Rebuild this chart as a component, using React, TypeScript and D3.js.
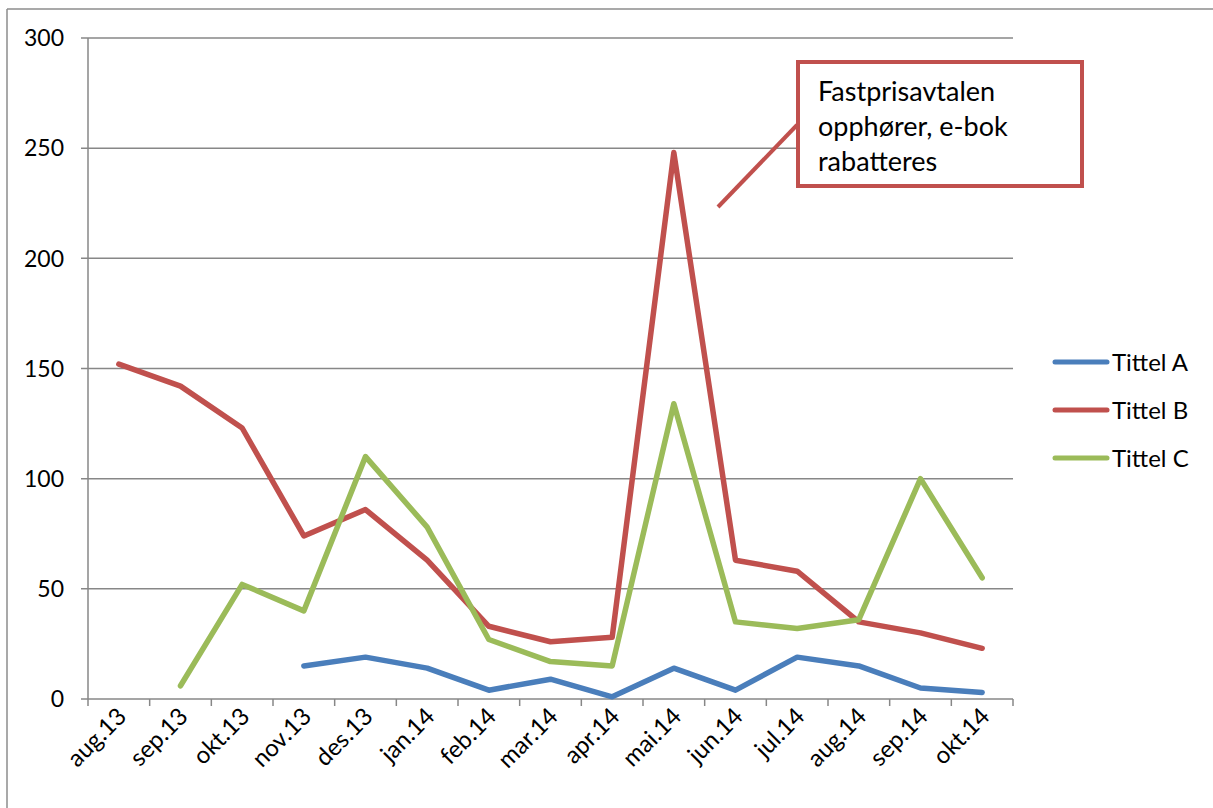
import React from "react";
import * as d3 from "d3";

const categories = ["aug.13","sep.13","okt.13","nov.13","des.13","jan.14","feb.14","mar.14","apr.14","mai.14","jun.14","jul.14","aug.14","sep.14","okt.14"];
const tittelA: (number | null)[] = [null, null, null, 15, 19, 14, 4, 9, 1, 14, 4, 19, 15, 5, 3];
const tittelB: (number | null)[] = [152, 142, 123, 74, 86, 63, 33, 26, 28, 248, 63, 58, 35, 30, 23];
const tittelC: (number | null)[] = [null, 6, 52, 40, 110, 78, 27, 17, 15, 134, 35, 32, 36, 100, 55];
const yTicks = [0, 50, 100, 150, 200, 250, 300];
const seriesNames = ["Tittel A", "Tittel B", "Tittel C"];
const seriesColors = ["#4A7EBB", "#C0504D", "#9BBB59"];
const calloutLines = ["Fastprisavtalen", "opphører, e-bok", "rabatteres"];

const FONT = "Lato, 'Open Sans', sans-serif";

export default function App() {
  const W = 1213, H = 808;
  const left = 88, right = 1013, top = 38, bottom = 699;
  const x = d3.scaleBand<string>().domain(categories).range([left, right]).paddingInner(0).paddingOuter(0);
  const y = d3.scaleLinear().domain([0, 300]).range([bottom, top]);
  const series = [tittelA, tittelB, tittelC];
  const line = d3.line<[string, number | null]>()
    .defined(d => d[1] !== null)
    .x(d => (x(d[0]) as number) + x.bandwidth() / 2)
    .y(d => y(d[1] as number));
  const gridColor = "#878787";
  const boundaries = d3.range(categories.length + 1).map(i => left + i * x.bandwidth());

  return (
    <svg width={W} height={H} style={{ position: "absolute", left: 0, top: 0, background: "#fff" }}>
      {/* outer border */}
      <line x1={7} y1={9} x2={W} y2={9} stroke="#8c8c8c" strokeWidth={1.5} />
      <line x1={7} y1={9} x2={7} y2={H} stroke="#8c8c8c" strokeWidth={1.5} />
      {/* gridlines */}
      {yTicks.map(t => (
        <g key={t}>
          <line x1={left - 7} x2={right} y1={y(t)} y2={y(t)} stroke={gridColor} strokeWidth={1.5} />
          <text x={64} y={y(t)} dy="0.36em" textAnchor="end" fontFamily={FONT} fontSize={23} fill="#000">{t}</text>
        </g>
      ))}
      {/* y axis */}
      <line x1={left} x2={left} y1={top} y2={bottom} stroke={gridColor} strokeWidth={1.5} />
      {/* x ticks */}
      {boundaries.map((bx, i) => (
        <line key={i} x1={bx} x2={bx} y1={bottom} y2={bottom + 7} stroke={gridColor} strokeWidth={1.5} />
      ))}
      {/* x labels */}
      {categories.map(c => {
        const cx = (x(c) as number) + x.bandwidth() / 2 - 3;
        const cy = 706;
        return (
          <text key={c} x={0} y={0} transform={`translate(${cx},${cy}) rotate(-45)`} textAnchor="end" dy="0.7em"
            fontFamily={FONT} fontSize={24} fill="#000">{c}</text>
        );
      })}
      {/* series lines */}
      {series.map((s, i) => (
        <path key={i} d={line(categories.map((c, j) => [c, s[j]] as [string, number | null])) || ""}
          fill="none" stroke={seriesColors[i]} strokeWidth={5.5} strokeLinejoin="round" strokeLinecap="round" />
      ))}
      {/* callout */}
      <line x1={718} y1={207} x2={797} y2={125} stroke="#C0504D" strokeWidth={4} />
      <rect x={798} y={62} width={284} height={124} fill="#fff" stroke="#C0504D" strokeWidth={4} />
      {calloutLines.map((t, i) => (
        <text key={i} x={818} y={101 + i * 35} fontFamily={FONT} fontSize={27} fill="#000">{t}</text>
      ))}
      {/* legend */}
      {seriesNames.map((n, i) => (
        <g key={n}>
          <line x1={1055} x2={1107} y1={362 + i * 48} y2={362 + i * 48} stroke={seriesColors[i]} strokeWidth={5} strokeLinecap="round" />
          <text x={1112} y={362 + i * 48} dy="0.36em" fontFamily={FONT} fontSize={24} fill="#000">{n}</text>
        </g>
      ))}
    </svg>
  );
}
